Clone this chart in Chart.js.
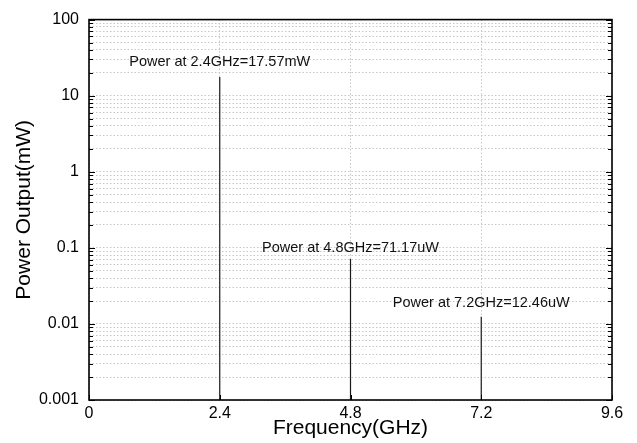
<!DOCTYPE html>
<html>
<head>
<meta charset="utf-8">
<script src="https://cdn.jsdelivr.net/npm/chart.js@4/dist/chart.umd.min.js"></script>
<style>
  html, body { margin: 0; padding: 0; background: #fff; }
  #wrap { width: 637px; height: 443px; }
</style>
</head>
<body>
<div id="wrap"><canvas id="spectrum" width="637" height="443"></canvas></div>
<script>
// Harmonic output power of the oscillator (values in mW)
const freqGHz = [2.4, 4.8, 7.2];
const powerMW = [17.57, 0.07117, 0.01246];
const powerLabels = [
  'Power at 2.4GHz=17.57mW',
  'Power at 4.8GHz=71.17uW',
  'Power at 7.2GHz=12.46uW'
];

// Axis ticks
const xTicks = [0, 2.4, 4.8, 7.2, 9.6];
const xTickLabels = ['0', '2.4', '4.8', '7.2', '9.6'];
const yDecades = [0.001, 0.01, 0.1, 1, 10, 100];
const yTickLabels = ['0.001', '0.01', '0.1', '1', '10', '100'];

// Vertical gap (px) between each stem top and its caption baseline
const captionGap = [11, 7, 10];

const FONT = '"Liberation Sans", Arial, Helvetica, sans-serif';

// All 1..9 x 10^k positions between the decades, for the dotted minor grid
const yAllTicks = [];
yDecades.forEach((d, i) => {
  if (i === yDecades.length - 1) { yAllTicks.push(d); return; }
  for (let m = 1; m <= 9; m++) yAllTicks.push(+(d * m).toPrecision(3));
});

const stemDatasets = freqGHz.map((f, i) => ({
  label: powerLabels[i],
  data: [{ x: f, y: yDecades[0] }, { x: f, y: powerMW[i] }],
  showLine: true,
  pointRadius: 0,
  borderColor: '#1a1a1a',
  borderWidth: 1.2,
  fill: false
}));

const frameAndLabels = {
  id: 'frameAndLabels',
  afterDatasetsDraw(chart) {
    const { ctx, chartArea: a, scales: { x, y } } = chart;
    ctx.save();
    // inward tick marks on left and right axes
    ctx.strokeStyle = '#000';
    ctx.lineWidth = 1;
    yAllTicks.forEach(v => {
      const py = Math.round(y.getPixelForValue(v)) + 0.5;
      const len = yDecades.includes(v) ? 6 : 4;
      ctx.beginPath();
      ctx.moveTo(a.left, py); ctx.lineTo(a.left + len, py);
      ctx.moveTo(a.right, py); ctx.lineTo(a.right - len, py);
      ctx.stroke();
    });
    xTicks.forEach(v => {
      const px = Math.round(x.getPixelForValue(v)) + 0.5;
      ctx.beginPath();
      ctx.moveTo(px, a.bottom); ctx.lineTo(px, a.bottom - 5);
      ctx.stroke();
    });
    // plot frame
    ctx.lineWidth = 1.6;
    ctx.strokeRect(a.left, a.top, a.right - a.left, a.bottom - a.top);

    // captions above each stem
    ctx.fillStyle = '#111';
    ctx.font = '14.5px ' + FONT;
    ctx.textAlign = 'center';
    ctx.textBaseline = 'alphabetic';
    freqGHz.forEach((f, i) => {
      const px = x.getPixelForValue(f);
      const py = y.getPixelForValue(powerMW[i]);
      ctx.fillText(powerLabels[i], px, py - captionGap[i]);
    });
    ctx.restore();
  }
};

new Chart(document.getElementById('spectrum'), {
  type: 'scatter',
  data: { datasets: stemDatasets },
  options: {
    responsive: false,
    animation: false,
    layout: { padding: { top: 16, right: 25, left: 0, bottom: 0 } },
    plugins: { legend: { display: false }, tooltip: { enabled: false } },
    scales: {
      x: {
        type: 'linear',
        min: 0,
        max: 9.6,
        afterBuildTicks(scale) { scale.ticks = xTicks.map(v => ({ value: v })); },
        afterFit(scale) { scale.height = 43; },
        ticks: {
          autoSkip: false,
          maxRotation: 0,
          padding: 4,
          color: '#000',
          font: { family: FONT, size: 16 },
          callback: (v) => { const i = xTicks.indexOf(v); return i >= 0 ? xTickLabels[i] : ''; }
        },
        grid: { color: '#c6c6c6', lineWidth: 1, drawTicks: false },
        border: { display: false, dash: [1.5, 2] },
        title: {
          display: true,
          text: 'Frequency(GHz)',
          color: '#000',
          font: { family: FONT, size: 21 },
          padding: { top: 0, bottom: 2 }
        }
      },
      y: {
        type: 'logarithmic',
        min: 0.001,
        max: 100,
        afterBuildTicks(scale) { scale.ticks = yAllTicks.map(v => ({ value: v })); },
        afterFit(scale) { scale.width = 89; },
        ticks: {
          autoSkip: false,
          padding: 10,
          color: '#000',
          font: { family: FONT, size: 16 },
          callback: (v) => { const i = yDecades.indexOf(v); return i >= 0 ? yTickLabels[i] : ''; }
        },
        grid: { color: '#c6c6c6', lineWidth: 1, drawTicks: false },
        border: { display: false, dash: [1.5, 2] },
        title: {
          display: true,
          text: 'Power Output(mW)',
          color: '#000',
          font: { family: FONT, size: 21 },
          padding: { top: 12, bottom: 0 }
        }
      }
    }
  },
  plugins: [frameAndLabels]
});
</script>
</body>
</html>
